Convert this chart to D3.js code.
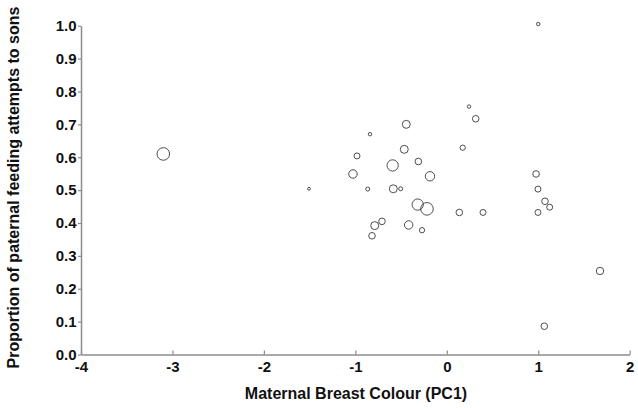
<!DOCTYPE html>
<html>
<head>
<meta charset="utf-8">
<script src="https://cdn.jsdelivr.net/npm/d3@7"></script>
<style>
  html, body { margin: 0; padding: 0; background: #fff; }
  svg { display: block; }
  text { font-family: "Liberation Sans", Arial, sans-serif; font-weight: bold; fill: #111; }
</style>
</head>
<body>
<script>
// Maternal breast colour (PC1)
const breastColourPC1 = [-3.10, -1.507, 1.00, 0.976, 0.997, 1.074, 1.125, 0.997, 1.675, 1.066,
  0.243, 0.316, -0.443, -0.84, 0.174, -0.465, -0.982, -0.311, -0.592, -1.026,
  -0.184, -0.865, -0.585, -0.504, -0.318, -0.217, 0.137, 0.396, -0.709, -0.788,
  -0.417, -0.271, -0.818];
// Proportion of paternal feeding attempts to sons
const propToSons = [0.610, 0.504, 1.005, 0.549, 0.503, 0.466, 0.448, 0.432, 0.254, 0.086,
  0.754, 0.717, 0.700, 0.670, 0.629, 0.624, 0.604, 0.587, 0.575, 0.549,
  0.542, 0.503, 0.504, 0.504, 0.456, 0.443, 0.432, 0.432, 0.405, 0.392,
  0.394, 0.378, 0.361];
// Relative sample size (symbol area)
const sampleSize = [40, 2, 3, 11, 9, 11, 9, 9, 14, 11,
  3, 11, 16, 3, 7, 16, 9, 11, 32, 18,
  22, 4, 16, 4, 32, 40, 11, 9, 11, 16,
  18, 7, 11];
const xTicks = [-4, -3, -2, -1, 0, 1, 2];
const yTicks = [0, 0.1, 0.2, 0.3, 0.4, 0.5, 0.6, 0.7, 0.8, 0.9, 1.0];
const xTitle = "Maternal Breast Colour (PC1)";
const yTitle = "Proportion of paternal feeding attempts to sons";

const W = 638, H = 408;
const svg = d3.select("body").append("svg").attr("width", W).attr("height", H);

const x = d3.scaleLinear().domain([-4, 2]).range([81, 629.7]);
const y = d3.scaleLinear().domain([0, 1]).range([354.5, 25.7]);
const r = d3.scaleSqrt().domain([0, 40]).range([0, 6.3]);

const axisColor = "#8c8c8c";

// X axis
const gx = svg.append("g").attr("transform", `translate(0,${y(0)})`)
  .call(d3.axisBottom(x).tickValues(xTicks).tickFormat(d3.format("d"))
    .tickSizeInner(-4).tickSizeOuter(0).tickPadding(7));
gx.select(".domain").attr("stroke", axisColor).attr("stroke-width", 1.5);
gx.selectAll(".tick line").attr("stroke", axisColor).attr("stroke-width", 1.2);
gx.selectAll(".tick text").attr("font-size", 15).attr("font-weight", "bold")
  .attr("fill", "#111").attr("font-family", "'Liberation Sans', Arial, sans-serif")
  .text(d => d < 0 ? "-" + Math.abs(d) : d);

// Y axis
const gy = svg.append("g").attr("transform", `translate(${x(-4)},0)`)
  .call(d3.axisLeft(y).tickValues(yTicks).tickFormat(d3.format(".1f"))
    .tickSizeInner(3).tickSizeOuter(0).tickPadding(1.5));
gy.select(".domain").attr("stroke", axisColor).attr("stroke-width", 1.5);
gy.selectAll(".tick line").attr("stroke", axisColor).attr("stroke-width", 1.2);
gy.selectAll(".tick text").attr("font-size", 15).attr("font-weight", "bold")
  .attr("fill", "#111").attr("font-family", "'Liberation Sans', Arial, sans-serif");

// Points
const pts = breastColourPC1.map((v, i) => ({ x: v, y: propToSons[i], n: sampleSize[i] }));
svg.append("g").selectAll("circle").data(pts).join("circle")
  .attr("cx", d => x(d.x))
  .attr("cy", d => y(d.y))
  .attr("r", d => r(d.n))
  .attr("fill", "none")
  .attr("stroke", "#3a3a3a")
  .attr("stroke-width", 0.9);

// Titles
svg.append("text").attr("x", 356).attr("y", 399)
  .attr("text-anchor", "middle").attr("font-size", 16).text(xTitle);
svg.append("text").attr("transform", "translate(18.5,187.5) rotate(-90)")
  .attr("text-anchor", "middle").attr("font-size", 16).text(yTitle);
</script>
</body>
</html>
